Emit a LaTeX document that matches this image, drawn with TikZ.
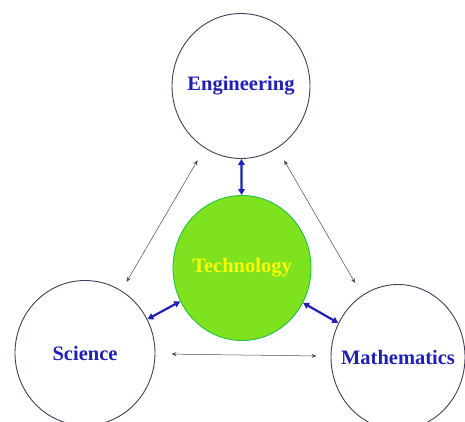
\documentclass[tikz,border=0pt]{standalone}
\usepackage{fontspec}
\setmainfont{Liberation Serif}
\usetikzlibrary{shapes.geometric,arrows.meta}
\definecolor{labelblue}{RGB}{32,32,178}
\definecolor{ringgray}{RGB}{60,64,92}
\definecolor{techgreen}{RGB}{126,226,30}
\definecolor{techedge}{RGB}{34,190,70}
\definecolor{techyellow}{RGB}{250,250,10}
\newcommand{\fieldname}[1]{\makebox[0pt]{#1}}

\begin{document}
\begin{tikzpicture}[x=1pt,y=-1pt]
\tikzset{
  field/.style={ellipse,draw=ringgray,line width=0.9pt,minimum width=138pt,minimum height=145pt,
    font=\fontsize{20.5}{24}\selectfont\bfseries,text=labelblue,inner sep=0pt},
  thin link/.style={{Stealth[length=5pt,width=4pt]}-{Stealth[length=5pt,width=4pt]},color=black!70,line width=0.5pt},
  thick link/.style={{Triangle[length=6pt,width=6.5pt]}-{Triangle[length=6pt,width=6.5pt]},color=labelblue,line width=2.2pt}
}
\useasboundingbox (0,0) rectangle (465,422);
% the four fields
\node [field] (eng) at (241,86) {\fieldname{Engineering}};
\node [field,fill=techgreen,draw=techedge,text=techyellow] (tech) at (242,268) {\fieldname{Technology}};
\node [field,minimum width=140pt] (sci) at (85,353) {\fieldname{Science}};
\node [field,minimum width=134pt] (math) at (398,357) {\fieldname{Mathematics}};
% technology to every field
\draw [thick link] (eng) -- (tech);
\draw [thick link] (sci) -- (tech);
\draw [thick link] (math) -- (tech);
% fields to one another
\draw [thin link,shorten <=10pt,shorten >=14pt] (sci) -- (eng);
\draw [thin link,shorten <=14pt,shorten >=14pt] (eng) -- (math);
\draw [thin link,shorten <=16pt,shorten >=14pt] (sci) -- (math);
\end{tikzpicture}
\end{document}
